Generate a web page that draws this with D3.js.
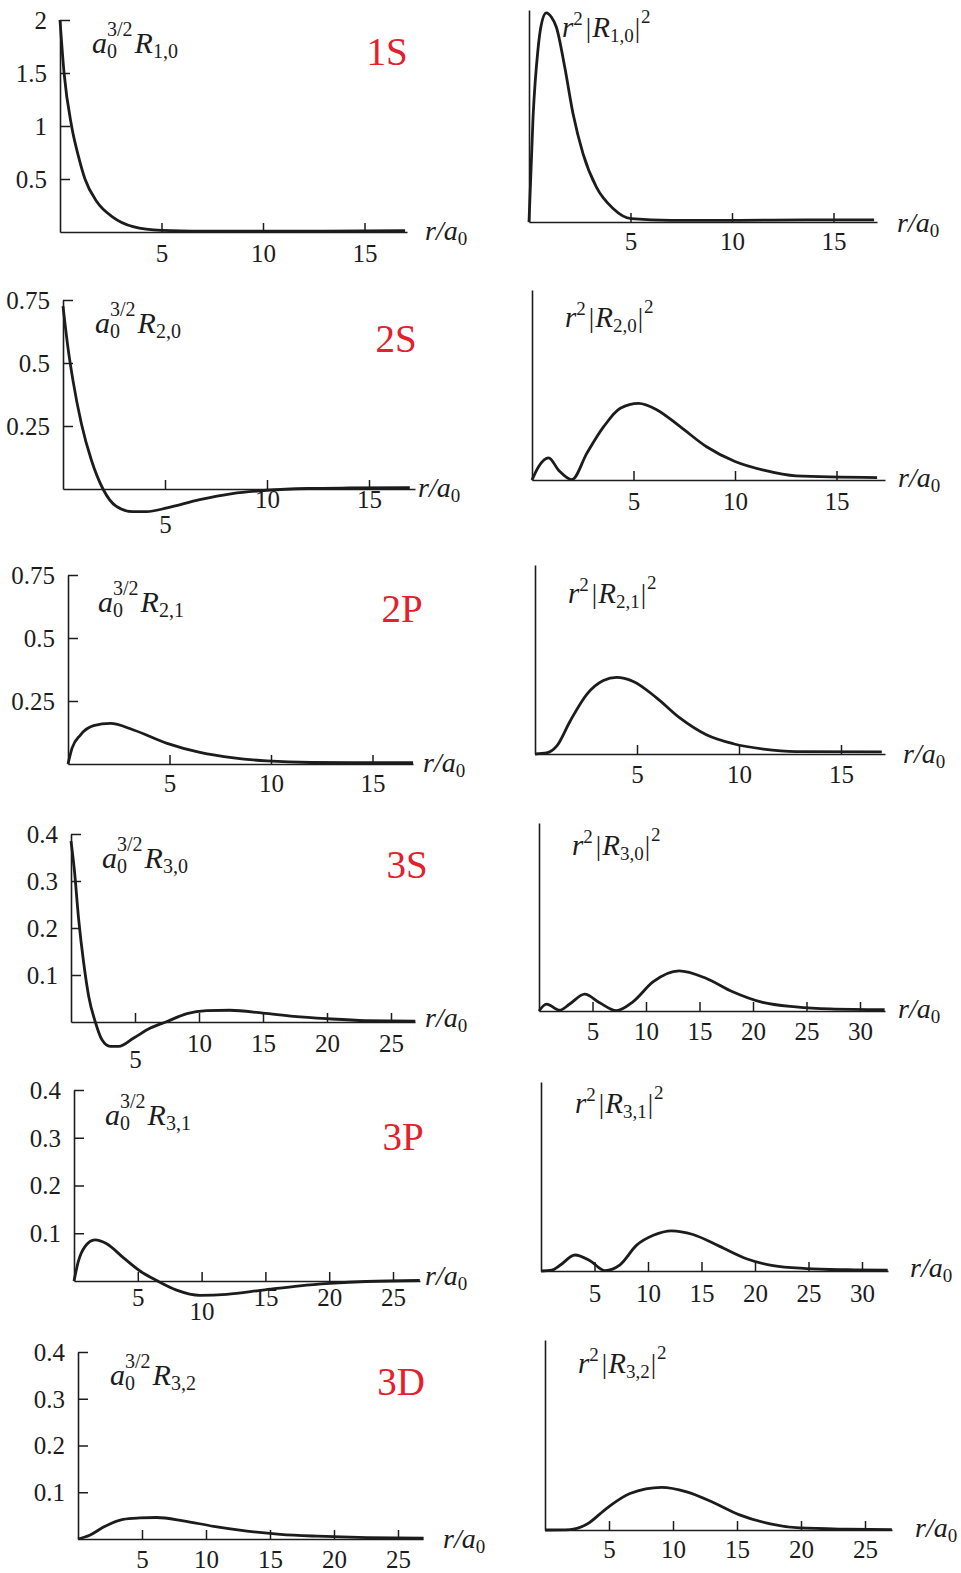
<!DOCTYPE html>
<html>
<head>
<meta charset="utf-8">
<script src="https://cdnjs.cloudflare.com/ajax/libs/d3/7.8.5/d3.min.js"></script>
<style>
  body { margin: 0; background: #fff; }
  svg { display: block; }
</style>
</head>
<body>
<svg id="chart" width="961" height="1573"></svg>
<script>
// orbital tags and (n,l) subscripts, one per row
const orbitals = ['1S', '2S', '2P', '3S', '3P', '3D'];
const nlLabels = ['1,0', '2,0', '2,1', '3,0', '3,1', '3,2'];

// tick values
const yTicks1 = [0.5, 1, 1.5, 2];
const yTicks2 = [0.25, 0.5, 0.75];
const yTicks3 = [0.1, 0.2, 0.3, 0.4];
const xTicks15 = [5, 10, 15];
const xTicks25 = [5, 10, 15, 20, 25];
const xTicks30 = [5, 10, 15, 20, 25, 30];

// a0^{3/2} R_{n,l} (r in units of a0)
const r_1S = [0, 0.2, 0.57, 0.9, 1.23, 1.8, 2.6, 3.6, 5, 7, 10, 13, 17];
const R_1S = [2.0, 1.5, 1.0, 0.72, 0.5, 0.29, 0.14, 0.05, 0.015, 0.008, 0.007, 0.009, 0.012];
const r_2S = [0, 0.245, 0.49, 0.9, 1.39, 1.96, 2.6, 3.4, 4.1, 5.1, 6.7, 8.3, 10, 12, 14, 17];
const R_2S = [0.726, 0.56, 0.43, 0.26, 0.115, 0, -0.068, -0.09, -0.09, -0.075, -0.042, -0.018, -0.005, 0.002, 0.004, 0.005];
const r_2P = [0, 0.2, 0.61, 1.26, 2.09, 3.23, 4.88, 6.5, 8.16, 9.8, 12, 17];
const R_2P = [0, 0.063, 0.115, 0.152, 0.161, 0.135, 0.082, 0.046, 0.024, 0.012, 0.006, 0.005];
const r_3S = [0, 0.26, 0.6, 0.99, 1.38, 1.9, 2.42, 3.07, 3.72, 4.9, 6.2, 7.5, 9.06, 10.6, 12.4, 15, 17.4, 20, 23, 26.9];
const R_3S = [0.385, 0.324, 0.218, 0.126, 0.055, 0, -0.038, -0.052, -0.052, -0.034, -0.013, 0.001, 0.018, 0.024, 0.025, 0.019, 0.012, 0.007, 0.003, 0.002];
const r_3P = [0, 0.34, 0.86, 1.64, 2.56, 3.86, 5.17, 6.48, 8.04, 9.87, 11.96, 14.8, 17.7, 20.05, 22.9, 27.1];
const R_3P = [0, 0.041, 0.072, 0.086, 0.078, 0.049, 0.021, 0.001, -0.019, -0.030, -0.028, -0.019, -0.010, -0.005, -0.001, 0.001];
const r_3D = [0, 0.91, 1.96, 3.52, 4.83, 6.14, 8.22, 10.6, 13.2, 15.8, 18.7, 22.6, 27];
const R_3D = [0, 0.008, 0.025, 0.042, 0.045, 0.046, 0.039, 0.027, 0.017, 0.010, 0.006, 0.003, 0.002];

// r^2 |R_{n,l}|^2
const rp_1S = [0, 0.2, 0.44, 0.6, 0.85, 1.1, 1.35, 1.76, 2.17, 2.66, 3.32, 4.14, 5.04, 7, 10, 14, 17];
const P_1S = [0, 0.256, 0.42, 0.48, 0.51, 0.50, 0.475, 0.378, 0.264, 0.167, 0.085, 0.033, 0.008, 0.004, 0.004, 0.005, 0.005];
const rp_2S = [0, 0.33, 0.82, 1.31, 1.97, 2.7, 3.53, 4.35, 5.25, 6.16, 7.3, 8.6, 10, 11.4, 13, 17];
const P_2S = [0, 0.033, 0.054, 0.024, 0.001, 0.065, 0.13, 0.175, 0.187, 0.171, 0.13, 0.081, 0.045, 0.024, 0.01, 0.006];
const rp_2P = [0, 0.57, 1.06, 1.72, 2.53, 3.35, 4.0, 4.82, 5.96, 7.1, 8.4, 9.72, 11.2, 12.8, 17];
const P_2P = [0, 0.0025, 0.019, 0.08, 0.145, 0.179, 0.187, 0.177, 0.137, 0.088, 0.047, 0.025, 0.012, 0.006, 0.005];
const rp_3S = [0, 0.69, 1.93, 2.87, 4.27, 5.67, 7.23, 8.8, 10.65, 13.1, 15.6, 18.1, 20.9, 24, 27.2, 32.3];
const P_3S = [0, 0.017, 0.002, 0.017, 0.041, 0.020, 0.001, 0.023, 0.071, 0.098, 0.080, 0.047, 0.021, 0.010, 0.005, 0.003];
const rp_3P = [0, 1.0, 1.78, 3.18, 4.58, 5.98, 7.38, 8.94, 10.5, 12.2, 14.2, 16.7, 19.2, 21.7, 24.8, 28.6, 32.4];
const P_3P = [0, 0.002, 0.014, 0.039, 0.025, 0.001, 0.015, 0.063, 0.087, 0.098, 0.089, 0.060, 0.030, 0.013, 0.006, 0.003, 0.002];
const rp_3D = [0, 1.95, 3.26, 4.82, 6.64, 9.11, 11.07, 13.15, 15.2, 17.6, 19.9, 23.6, 27.1];
const P_3D = [0, 0.001, 0.014, 0.053, 0.089, 0.104, 0.093, 0.067, 0.037, 0.015, 0.005, 0.002, 0.001];

const ink = '#1c1c1c';
const red = '#e3202b';
const serif = '"Liberation Serif", "DejaVu Serif", serif';
const pxPerUnitRight = 410;

// page placement of each panel (scan is slightly skewed, so each row drifts right)
const leftPanels = [
    {ox: 60, oy: 232, top: 20, yMax: 2, xPx: 20.3, xEnd: 407, yTicks: yTicks1, xTicks: xTicks15, tickDy: 30, low: {},
        title: [92, 53], tag: [387, 65], unit: [425, 240], r: r_1S, v: R_1S},
    {ox: 63, oy: 489, top: 300, yMax: 0.75, xPx: 20.4, xEnd: 415, yTicks: yTicks2, xTicks: xTicks15, tickDy: 19, low: {5: 44},
        title: [95, 333], tag: [396, 352], unit: [418, 497], r: r_2S, v: R_2S},
    {ox: 68, oy: 764, top: 575, yMax: 0.75, xPx: 20.3, xEnd: 413, yTicks: yTicks2, xTicks: xTicks15, tickDy: 28, low: {},
        title: [98, 612], tag: [402, 622], unit: [423, 772], r: r_2P, v: R_2P},
    {ox: 71, oy: 1022, top: 834, yMax: 0.4, xPx: 12.8, xEnd: 415, yTicks: yTicks3, xTicks: xTicks25, tickDy: 30, low: {5: 46},
        title: [102, 868], tag: [407, 878], unit: [425, 1027], r: r_3S, v: R_3S},
    {ox: 74, oy: 1281, top: 1090, yMax: 0.4, xPx: 12.76, xEnd: 420, yTicks: yTicks3, xTicks: xTicks25, tickDy: 25, low: {10: 39},
        title: [105, 1125], tag: [403, 1150], unit: [425, 1285], r: r_3P, v: R_3P},
    {ox: 78, oy: 1539, top: 1352, yMax: 0.4, xPx: 12.8, xEnd: 423, yTicks: yTicks3, xTicks: xTicks25, tickDy: 29, low: {},
        title: [110, 1385], tag: [401, 1395], unit: [443, 1548], r: r_3D, v: R_3D}
];

const rightPanels = [
    {ox: 529, oy: 222, top: 10, xPx: 20.3, xEnd: 877, xTicks: xTicks15, tickDy: 28, low: {},
        title: [562, 37], unit: [897, 232], r: rp_1S, v: P_1S},
    {ox: 532, oy: 480, top: 290, xPx: 20.3, xEnd: 885, xTicks: xTicks15, tickDy: 30, low: {},
        title: [565, 327], unit: [898, 487], r: rp_2S, v: P_2S},
    {ox: 535, oy: 754, top: 565, xPx: 20.4, xEnd: 885, xTicks: xTicks15, tickDy: 29, low: {},
        title: [568, 603], unit: [903, 763], r: rp_2P, v: P_2P},
    {ox: 539, oy: 1011, top: 823, xPx: 10.7, xEnd: 885, xTicks: xTicks30, tickDy: 29, low: {},
        title: [572, 855], unit: [898, 1018], r: rp_3S, v: P_3S},
    {ox: 541, oy: 1271, top: 1082, xPx: 10.7, xEnd: 888, xTicks: xTicks30, tickDy: 31, low: {},
        title: [575, 1113], unit: [910, 1277], r: rp_3P, v: P_3P},
    {ox: 545, oy: 1530, top: 1340, xPx: 12.8, xEnd: 892, xTicks: xTicks25, tickDy: 28, low: {},
        title: [578, 1373], unit: [915, 1537], r: rp_3D, v: P_3D}
];

const svg = d3.select('#chart');
svg.append('rect').attr('width', 961).attr('height', 1573).attr('fill', '#fff');

// writes pieces of a formula one after another, measuring each piece
function mathText(g, x, y, parts) {
    var cx = x;
    parts.forEach(function (p) {
        var items = p.stack ? p.stack : [p];
        var w = 0;
        items.forEach(function (s) {
            var t = g.append('text')
                .attr('x', cx)
                .attr('y', y + (s.dy || 0))
                .attr('font-family', serif)
                .attr('font-size', s.size)
                .attr('font-style', s.it ? 'italic' : 'normal')
                .attr('fill', ink)
                .text(s.t);
            w = Math.max(w, t.node().getComputedTextLength());
        });
        cx += w + (p.gap || 0);
    });
}

function drawPanel(p, yMax, withYTicks) {
    var g = svg.append('g');
    var xMaxR = (p.xEnd - p.ox) / p.xPx;
    var x = d3.scaleLinear().domain([0, xMaxR]).range([p.ox, p.xEnd]);
    var y = d3.scaleLinear().domain([0, yMax]).range([p.oy, p.top]);

    var yAxis = d3.axisLeft(y).tickSizeOuter(0);
    if (withYTicks) {
        yAxis.tickValues(p.yTicks).tickSizeInner(-10).tickPadding(13).tickFormat(function (d) {
            return String(d);
        });
    } else {
        yAxis.tickValues([]);
    }
    var ya = g.append('g').attr('transform', 'translate(' + p.ox + ',0)').call(yAxis);

    var xAxis = d3.axisBottom(x).tickValues(p.xTicks).tickSizeInner(-9).tickSizeOuter(0)
        .tickFormat(function (d) {
            return String(d);
        });
    var xa = g.append('g').attr('transform', 'translate(0,' + p.oy + ')').call(xAxis);
    xa.selectAll('text')
        .attr('y', function (d) {
            return p.low[d] !== undefined ? p.low[d] : p.tickDy;
        })
        .attr('dy', 0);

    [ya, xa].forEach(function (a) {
        a.attr('font-family', serif).attr('font-size', 25);
        a.selectAll('path.domain').attr('stroke', ink).attr('stroke-width', 1.6);
        a.selectAll('.tick line').attr('stroke', ink).attr('stroke-width', 1.5);
        a.selectAll('text').attr('fill', ink);
    });
    ya.selectAll('text').attr('dy', '0.33em');

    var pts = p.r.map(function (r, i) {
        return [r, p.v[i]];
    });
    var line = d3.line()
        .x(function (d) {
            return x(d[0]);
        })
        .y(function (d) {
            return y(d[1]);
        })
        .curve(d3.curveMonotoneX);
    g.append('path')
        .attr('d', line(pts))
        .attr('fill', 'none')
        .attr('stroke', ink)
        .attr('stroke-width', 2.8)
        .attr('stroke-linejoin', 'round');

    // r/a0 axis name
    mathText(g, p.unit[0], p.unit[1], [
        {t: 'r', it: true, size: 28},
        {t: '/', it: true, size: 28},
        {t: 'a', it: true, size: 28},
        {t: '0', size: 19, dy: 5}
    ]);
    return g;
}

leftPanels.forEach(function (p, i) {
    var g = drawPanel(p, p.yMax, true);
    mathText(g, p.title[0], p.title[1], [
        {t: 'a', it: true, size: 30},
        {stack: [{t: '3/2', size: 20, dy: -17}, {t: '0', size: 20, dy: 5}], gap: 2},
        {t: 'R', it: true, size: 30},
        {t: nlLabels[i], size: 20, dy: 5}
    ]);
    g.append('text')
        .attr('x', p.tag[0])
        .attr('y', p.tag[1])
        .attr('text-anchor', 'middle')
        .attr('font-family', serif)
        .attr('font-size', 39)
        .attr('fill', red)
        .text(orbitals[i]);
});

rightPanels.forEach(function (p, i) {
    var g = drawPanel(p, (p.oy - p.top) / pxPerUnitRight, false);
    mathText(g, p.title[0], p.title[1], [
        {t: 'r', it: true, size: 29},
        {t: '2', size: 19, dy: -12, gap: 3},
        {t: '|', size: 27, gap: 1},
        {t: 'R', it: true, size: 29},
        {t: nlLabels[i], size: 19, dy: 5, gap: 1},
        {t: '|', size: 27, gap: 1},
        {t: '2', size: 19, dy: -14}
    ]);
});
</script>
</body>
</html>
